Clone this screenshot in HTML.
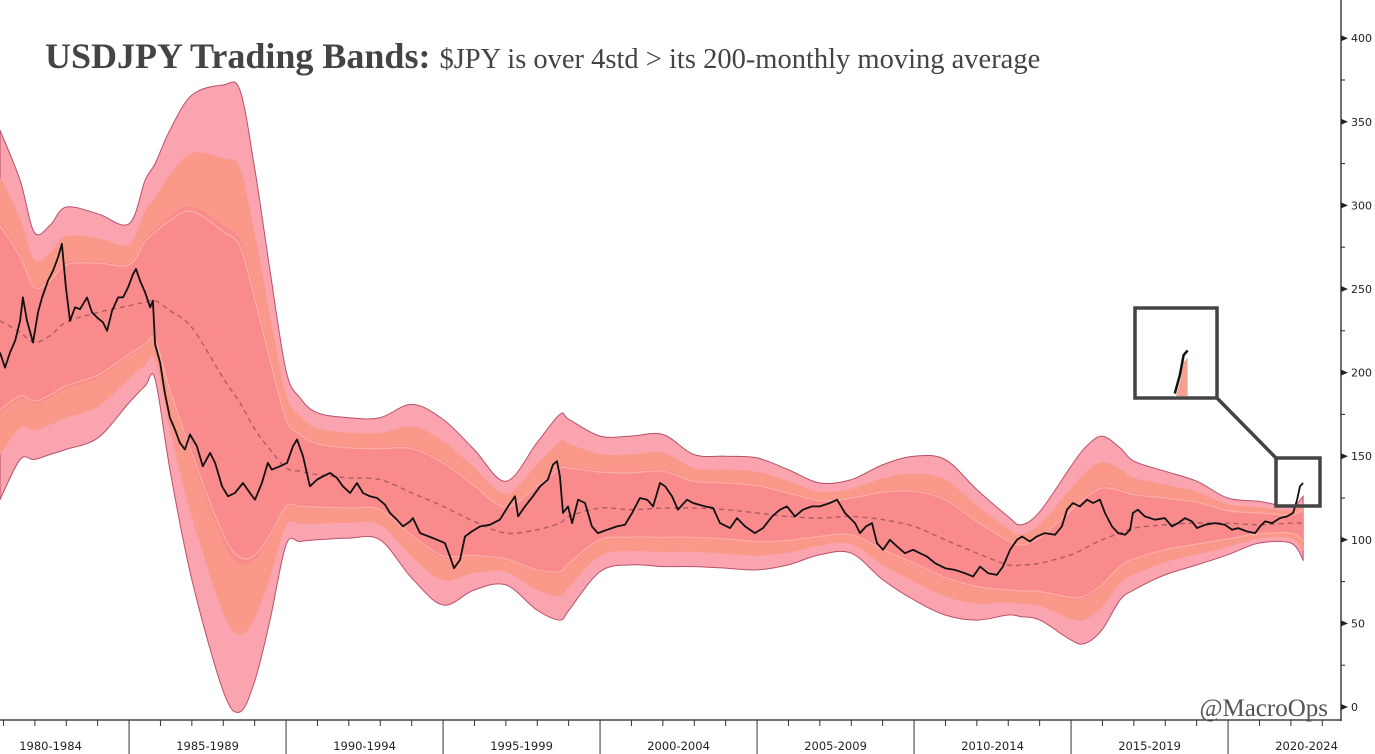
<!DOCTYPE html>
<html><head><meta charset="utf-8"><style>
html,body{margin:0;padding:0;background:#fff;}
svg{display:block;}
</style></head><body>
<svg id="chart" width="1375" height="754" viewBox="0 0 1375 754" xmlns="http://www.w3.org/2000/svg">
<defs><clipPath id="plotclip"><rect x="0" y="0" width="1341" height="720"/></clipPath>
<clipPath id="insetclip"><rect x="1136" y="309" width="80" height="88"/></clipPath></defs>
<g id="bands" clip-path="url(#plotclip)"></g>
<g id="inset"></g>
<g id="axes"></g>
<text x="45" y="68" font-family="Liberation Serif, serif" fill="#444"><tspan font-size="36" font-weight="bold">USDJPY Trading Bands:</tspan><tspan font-size="28.5" dx="9">$JPY is over 4std &gt; its 200-monthly moving average</tspan></text>
<text x="1328" y="716" text-anchor="end" font-family="Liberation Serif, serif" font-size="25" fill="#555">@MacroOps</text>
</svg>
<script>
// ---- data ----
const bandYears = [1980.89,1981.53,1981.98,1982.48,1982.99,1984.01,1985.00,1985.51,1985.83,1986.30,1987.00,1987.99,1988.53,1989.01,1989.49,1990.00,1990.44,1990.99,1992.00,1992.99,1994.01,1995.00,1995.99,1997.00,1997.99,1998.72,1999.01,2000.00,2000.98,2002.00,2002.99,2004.01,2005.00,2005.99,2007.00,2008.00,2009.01,2010.00,2010.99,2012.00,2012.99,2013.41,2014.01,2015.00,2015.44,2015.98,2016.56,2017.00,2017.99,2019.01,2019.99,2020.98,2022.00,2022.39];
const movingAvg = [231,224,218,222,230,236,240,242,243,237,227,197,182,166,154,143,141,139,137,136,128,120,111,104,106,110,114,119,118,119,119,118,116,114,113,114,112,108,100,92,85,85,86,91,95,100,104,107,109,110,110,109,110,110];
const upper4 = [345,315,284,288,299,295,289,315,325,345,366,372,369,321,261,201,185,176,173,173,181,172,154,135,158,175,172,162,162,163,151,150,149,142,134,136,145,150,148,130,114,109,117,144,155,162,155,147,141,135,125,123,120,126];
const lower4 = [124,148,148,151,154,161,182,192,196,142,76,10,-3,16,52,97,99,100,101,100,77,61,70,73,58,52,58,81,85,84,84,83,82,85,91,92,76,64,55,52,55,54,52,40,38,46,64,70,79,85,91,98,98,88];
const priceYears = [1980.89,1981.05,1981.21,1981.37,1981.53,1981.62,1981.75,1981.94,1982.10,1982.23,1982.42,1982.58,1982.74,1982.86,1982.99,1983.12,1983.28,1983.44,1983.66,1983.82,1983.98,1984.17,1984.30,1984.46,1984.65,1984.81,1984.97,1985.13,1985.22,1985.35,1985.51,1985.67,1985.76,1985.79,1985.83,1985.99,1986.14,1986.30,1986.46,1986.62,1986.78,1986.94,1987.16,1987.35,1987.58,1987.74,1987.96,1988.15,1988.37,1988.63,1988.85,1989.01,1989.23,1989.42,1989.55,1989.81,1990.03,1990.22,1990.35,1990.54,1990.76,1990.99,1991.18,1991.40,1991.62,1991.81,1992.04,1992.26,1992.45,1992.67,1992.90,1993.15,1993.31,1993.53,1993.72,1993.95,1994.04,1994.27,1994.68,1995.06,1995.22,1995.35,1995.54,1995.70,1995.92,1996.18,1996.49,1996.81,1997.07,1997.29,1997.39,1997.61,1997.86,1998.09,1998.34,1998.50,1998.63,1998.72,1998.82,1998.98,1999.11,1999.30,1999.52,1999.74,1999.93,2000.22,2000.54,2000.79,2001.02,2001.27,2001.50,2001.69,2001.91,2002.07,2002.29,2002.48,2002.77,2002.96,2003.34,2003.60,2003.82,2004.14,2004.36,2004.62,2004.93,2005.19,2005.48,2005.73,2005.95,2006.21,2006.46,2006.75,2007.00,2007.32,2007.55,2007.80,2008.12,2008.28,2008.47,2008.66,2008.82,2009.01,2009.23,2009.46,2009.71,2009.97,2010.19,2010.41,2010.67,2010.99,2011.30,2011.62,2011.88,2012.10,2012.36,2012.64,2012.83,2013.06,2013.28,2013.44,2013.69,2013.91,2014.17,2014.49,2014.71,2014.87,2015.06,2015.28,2015.51,2015.70,2015.92,2016.08,2016.30,2016.50,2016.72,2016.88,2016.97,2017.13,2017.35,2017.67,2017.99,2018.21,2018.41,2018.63,2018.85,2019.01,2019.27,2019.58,2019.90,2020.13,2020.32,2020.60,2020.86,2021.02,2021.18,2021.40,2021.65,2021.88,2022.07,2022.20,2022.29,2022.39];
const priceValues = [212,203,212,219,231,245,231,218,236,245,255,261,269,277,251,231,239,238,245,236,233,230,225,237,245,245,251,259,262,255,248,239,243,231,217,206,188,173,166,158,154,163,156,144,152,146,132,126,128,134,128,124,134,146,142,144,146,156,160,150,132,136,138,140,137,132,128,134,128,126,125,121,116,112,108,111,113,104,101,98,90,83,88,102,105,108,109,112,120,126,114,120,126,132,136,145,147,138,116,120,110,124,122,108,104,106,108,109,116,125,124,120,134,132,126,118,124,122,120,119,110,107,113,108,104,107,114,118,120,114,118,120,120,122,124,116,110,104,108,110,98,94,100,96,92,94,92,90,86,83,82,80,78,84,80,79,84,94,100,102,99,102,104,103,108,118,122,120,124,122,124,116,108,104,103,106,116,118,114,112,113,108,110,113,111,107,109,110,109,106,107,105,104,108,111,110,113,114,116,124,132,134];
const yTicks = [0,50,100,150,200,250,300,350,400];
const periodLabels = ["1980-1984","1985-1989","1990-1994","1995-1999","2000-2004","2005-2009","2010-2014","2015-2019","2020-2024"];
const periodStarts = [1980,1985,1990,1995,2000,2005,2010,2015,2020];

// ---- scales ----
const X0 = 1980.89, PXY = 31.4;
function xs(yr){ return (yr - X0) * PXY; }
function ys(v){ return 707 - v * 1.672; }
const NS = "http://www.w3.org/2000/svg";
function mk(tag, attrs, parent){ const e = document.createElementNS(NS, tag); for (const k in attrs) e.setAttribute(k, attrs[k]); parent.appendChild(e); return e; }

// Catmull-Rom smoothing -> path segment (no leading M)
function smooth(p){
  let d = '';
  for (let i = 0; i < p.length - 1; i++) {
    const p0 = p[Math.max(0,i-1)], p1 = p[i], p2 = p[i+1], p3 = p[Math.min(p.length-1,i+2)];
    const c1x = p1[0] + (p2[0]-p0[0])/6, c1y = p1[1] + (p2[1]-p0[1])/6;
    const c2x = p2[0] - (p3[0]-p1[0])/6, c2y = p2[1] - (p3[1]-p1[1])/6;
    d += ` C${c1x.toFixed(1)},${c1y.toFixed(1)} ${c2x.toFixed(1)},${c2y.toFixed(1)} ${p2[0].toFixed(1)},${p2[1].toFixed(1)}`;
  }
  return d;
}
function linePath(p){ return `M${p[0][0].toFixed(1)},${p[0][1].toFixed(1)}` + smooth(p); }
function areaPath(u,l){ const lr = l.slice().reverse(); return linePath(u) + ` L${lr[0][0].toFixed(1)},${lr[0][1].toFixed(1)}` + smooth(lr) + ' Z'; }

const bands = document.getElementById('bands');
function edgeU(f){ return bandYears.map((yr,i)=>[xs(yr), ys(movingAvg[i] + f*(upper4[i]-movingAvg[i]))]); }
function edgeL(f){ return bandYears.map((yr,i)=>[xs(yr), ys(movingAvg[i] - f*(movingAvg[i]-lower4[i]))]); }
function pts(a){ return a.map(p=>p[0].toFixed(1)+','+p[1].toFixed(1)).join(' '); }

const b4 = mk('path', {d: areaPath(edgeU(1), edgeL(1)), fill:'#f9a4ae', stroke:'#b8506a', 'stroke-width':'1'}, bands);


const b3 = mk('path', {d: areaPath(edgeU(0.75), edgeL(0.75)), fill:'#fa9889'}, bands);


const b2 = mk('path', {d: areaPath(edgeU(0.52), edgeL(0.52)), fill:'#f98b8c'}, bands);


[edgeU(0.5), edgeL(0.5)].forEach((e,i)=>{
  const l = mk('path', {d: linePath(e), fill:'none', stroke:'#fbb0a6', 'stroke-width':'1.2'}, bands);
  
  
});
const ma = mk('path', {d: linePath(bandYears.map((yr,i)=>[xs(yr), ys(movingAvg[i])])), fill:'none', stroke:'#a85a5e', 'stroke-width':'1.3', 'stroke-dasharray':'5,4'}, bands);


const pl = mk('polyline', {points: pts(priceYears.map((yr,i)=>[xs(yr), ys(priceValues[i])])), fill:'none', stroke:'#111', 'stroke-width':'1.8', 'stroke-linejoin':'round'}, bands);



// ---- inset ----
const inset = document.getElementById('inset');
const ib = mk('rect', {x:1276, y:458, width:44, height:48, fill:'none', stroke:'#444', 'stroke-width':'3.5'}, inset);


const bb = mk('rect', {x:1135, y:308, width:82, height:90, fill:'#fff', stroke:'#444', 'stroke-width':'3.5'}, inset);


const cl = mk('line', {x1:1217, y1:398, x2:1276, y2:458, stroke:'#444', 'stroke-width':'3.5'}, inset);


const ig = mk('g', {'clip-path':'url(#insetclip)'}, inset);
function ixs(yr){ return 1170 + (yr - 2021.95) * 40; }
function iys(v){ return 396 - (v - 115) * 2.4; }
const tail = priceYears.map((yr,i)=>[yr, priceValues[i]]).filter(p=>p[0] >= 2021.95);
const ifill = mk('polygon', {points: tail.map(p=>ixs(p[0]).toFixed(1)+','+iys(p[1]-3).toFixed(1)).join(' ') + ' ' + ixs(tail[tail.length-1][0]).toFixed(1)+',396 '+ixs(tail[0][0]).toFixed(1)+',396', fill:'#f7a08f'}, ig);


const ip = mk('polyline', {points: tail.map(p=>ixs(p[0]).toFixed(1)+','+iys(p[1]).toFixed(1)).join(' '), fill:'none', stroke:'#111', 'stroke-width':'2.5'}, ig);



// ---- axes ----
const axes = document.getElementById('axes');
mk('line', {x1:1341, y1:0, x2:1341, y2:721, stroke:'#222', 'stroke-width':'1.3'}, axes);
mk('line', {x1:0, y1:720, x2:1341, y2:720, stroke:'#222', 'stroke-width':'1.3'}, axes);
for (let v = 0; v <= 425; v += 25) {
  const y = ys(v);
  mk('line', {x1:1341, y1:y, x2:1345, y2:y, stroke:'#222', 'stroke-width':'1'}, axes);
}
yTicks.forEach(v=>{
  const y = ys(v);
  mk('path', {d:`M1341,${y-3} L1348,${y} L1341,${y+3} Z`, fill:'#222'}, axes);
  const t = mk('text', {x:1351, y:y+4, 'font-family':'DejaVu Sans, sans-serif', 'font-size':'11', fill:'#222'}, axes);
  t.textContent = v;
  
  
});
for (let yr = 1980; yr <= 2024; yr++) {
  const x = xs(yr);
  if (x < 0 || x > 1341) continue;
  const major = (yr % 5 === 0);
  mk('line', {x1:x, y1:720, x2:x, y2: major ? 754 : 726, stroke:'#333', 'stroke-width':'1'}, axes);
}
periodLabels.forEach((lab,i)=>{
  const cx = Math.max(50, (xs(periodStarts[i]) + xs(periodStarts[i] + 5)) / 2);
  const t = mk('text', {x:cx, y:750, 'text-anchor':'middle', 'font-family':'DejaVu Sans, sans-serif', 'font-size':'11.5', fill:'#222'}, axes);
  t.textContent = lab;
  
  
});
</script>
</body></html>
